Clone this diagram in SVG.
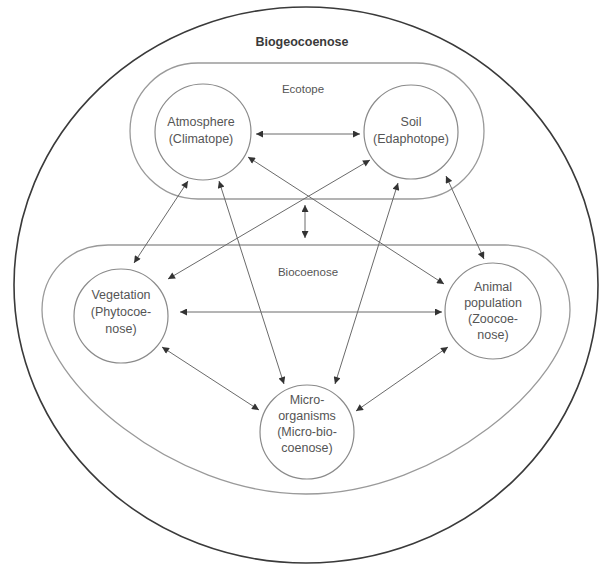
<svg xmlns="http://www.w3.org/2000/svg" width="605" height="568" viewBox="0 0 605 568">
  <style>
    .bg { fill: #ffffff; }
    .outer { fill: none; stroke: #3a3a3a; stroke-width: 1.6; }
    .zone { fill: none; stroke: #9a9a9a; stroke-width: 1.3; }
    .node { fill: #ffffff; stroke: #8a8a8a; stroke-width: 1.2; }
    .lbl { font-family: "Liberation Sans", Arial, sans-serif; font-size: 12.5px; fill: #555555; text-anchor: middle; }
    .zlbl { font-family: "Liberation Sans", Arial, sans-serif; font-size: 11.5px; fill: #555555; text-anchor: middle; }
    .title { font-family: "Liberation Sans", Arial, sans-serif; font-size: 12.5px; font-weight: bold; fill: #3a3a3a; text-anchor: middle; }
    .link { fill: none; stroke: #6a6a6a; stroke-width: 1; marker-start: url(#head); marker-end: url(#head); }
  </style>
  <defs>
    <marker id="head" viewBox="0 0 10 10" refX="10" refY="5" markerWidth="9" markerHeight="7" markerUnits="userSpaceOnUse" orient="auto-start-reverse">
      <path d="M0,0 L10,5 L0,10 Z" fill="#333333"/>
    </marker>
  </defs>

  <rect class="bg" x="0" y="0" width="605" height="568"/>

  <!-- outer boundary: biogeocoenose -->
  <g id="biogeocoenose">
    <ellipse class="outer" cx="306" cy="285" rx="292" ry="278"/>
    <text class="title" x="302" y="46">Biogeocoenose</text>
  </g>

  <!-- ecotope zone -->
  <g id="ecotope">
    <rect class="zone" x="130" y="63" width="354" height="136" rx="68" ry="68"/>
    <text class="zlbl" x="303" y="93">Ecotope</text>
  </g>

  <!-- biocoenose zone -->
  <g id="biocoenose">
    <path class="zone" d="M108,245 L505,245 C545,245 570,275 570,310 C570,380 440,494 306,494 C172,494 42,380 42,310 C42,275 68,245 108,245 Z"/>
    <text class="zlbl" x="308" y="276">Biocoenose</text>
  </g>

  <!-- connectors -->
  <g id="connectors">
    <line class="link" x1="256" y1="134" x2="360" y2="134"/>
    <line class="link" x1="188" y1="181" x2="134" y2="263"/>
    <line class="link" x1="219" y1="181" x2="284" y2="384"/>
    <line class="link" x1="248" y1="157" x2="444" y2="284"/>
    <line class="link" x1="370" y1="160" x2="168" y2="279"/>
    <line class="link" x1="398" y1="183" x2="335" y2="384"/>
    <line class="link" x1="446" y1="176" x2="484" y2="259"/>
    <line class="link" x1="180" y1="312" x2="442" y2="312"/>
    <line class="link" x1="162" y1="347" x2="259" y2="410"/>
    <line class="link" x1="448" y1="347" x2="356" y2="411"/>
    <line class="link" x1="305" y1="205" x2="305" y2="238"/>
  </g>

  <g id="atmosphere">
    <circle class="node" cx="203" cy="132" r="48"/>
    <text class="lbl" x="201" y="126">Atmosphere</text>
    <text class="lbl" x="201" y="143">(Climatope)</text>
  </g>

  <g id="soil">
    <circle class="node" cx="411" cy="132" r="47"/>
    <text class="lbl" x="411" y="126">Soil</text>
    <text class="lbl" x="411" y="143">(Edaphotope)</text>
  </g>

  <g id="vegetation">
    <circle class="node" cx="121" cy="316" r="47"/>
    <text class="lbl" x="121" y="299">Vegetation</text>
    <text class="lbl" x="121" y="316">(Phytocoe-</text>
    <text class="lbl" x="121" y="333">nose)</text>
  </g>

  <g id="animal">
    <circle class="node" cx="493" cy="311" r="48"/>
    <text class="lbl" x="493" y="291">Animal</text>
    <text class="lbl" x="493" y="307">population</text>
    <text class="lbl" x="493" y="323">(Zoocoe-</text>
    <text class="lbl" x="493" y="339">nose)</text>
  </g>

  <g id="micro-organisms">
    <circle class="node" cx="307" cy="432" r="47"/>
    <text class="lbl" x="307" y="404">Micro-</text>
    <text class="lbl" x="307" y="420">organisms</text>
    <text class="lbl" x="307" y="436">(Micro-bio-</text>
    <text class="lbl" x="307" y="452">coenose)</text>
  </g>
</svg>
